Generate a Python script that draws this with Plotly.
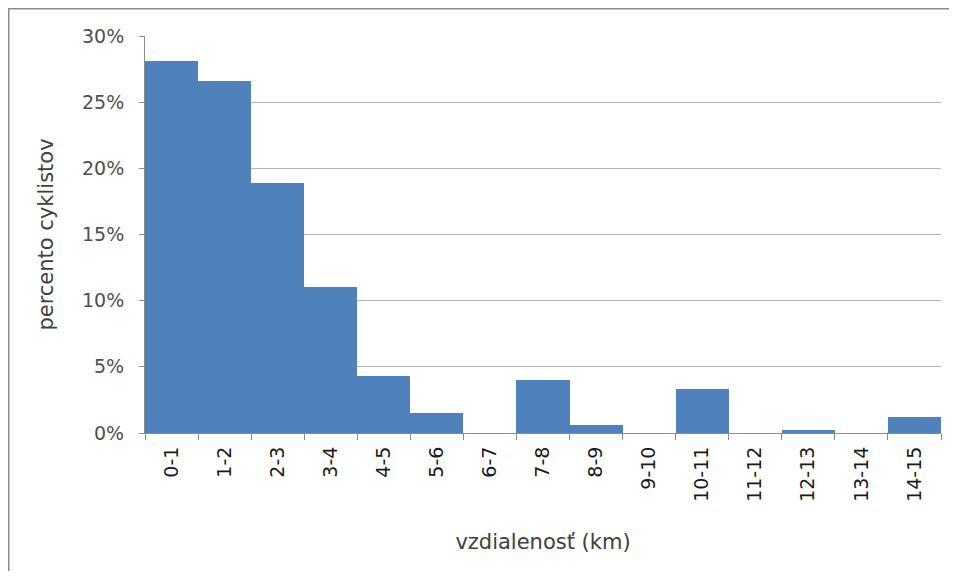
import plotly.graph_objects as go

categories = ["0-1", "1-2", "2-3", "3-4", "4-5", "5-6", "6-7", "7-8", "8-9", "9-10",
              "10-11", "11-12", "12-13", "13-14", "14-15"]
percent = [28.1, 26.6, 18.9, 11.0, 4.3, 1.5, 0.0, 4.0, 0.6, 0.0, 3.3, 0.0, 0.25, 0.0, 1.2]
y_ticks = [0, 5, 10, 15, 20, 25, 30]
y_tick_labels = ["0%", "5%", "10%", "15%", "20%", "25%", "30%"]

FONT = "'DejaVu Sans', Verdana, sans-serif"

# page has an 8px body margin; figure is sized so the page fits the 957x579 window
W, H = 941, 563
L, R, T, B = 137, 8, 28, 138
PW, PH = W - L - R, H - T - B

fig = go.Figure(go.Bar(
    x=categories,
    y=percent,
    marker=dict(color="#4F81BD", line=dict(width=0)),
    hoverinfo="x+y",
))

fig.update_layout(
    width=W, height=H,
    margin=dict(l=L, r=R, t=T, b=B, autoexpand=False),
    paper_bgcolor="white",
    plot_bgcolor="white",
    bargap=0,
    showlegend=False,
    font=dict(family=FONT, size=19, color="#404040"),
    xaxis=dict(
        type="category",
        tickangle=-90,
        tickson="boundaries",
        ticks="outside",
        ticklen=6,
        tickcolor="#8c8c8c",
        showline=True,
        linecolor="#8c8c8c",
        linewidth=1,
        showgrid=False,
        automargin=False,
        tickfont=dict(family=FONT, size=19, color="#1a1a1a"),
        ticklabelstandoff=5,
        title=dict(text="vzdialenosť (km)", font=dict(family=FONT, size=21, color="#404040"), standoff=33),
    ),
    yaxis=dict(
        range=[0, 30],
        tickvals=y_ticks,
        ticktext=y_tick_labels,
        ticks="outside",
        ticklen=5,
        tickcolor="#8c8c8c",
        showline=True,
        linecolor="#8c8c8c",
        linewidth=1,
        showgrid=True,
        gridcolor="#b4b4b4",
        gridwidth=1,
        zeroline=False,
        automargin=False,
        tickfont=dict(family=FONT, size=19, color="#505050"),
        ticklabelstandoff=11,
        title=dict(text="percento cyklistov", font=dict(family=FONT, size=21, color="#404040"), standoff=22),
    ),
    shapes=[dict(
        type="rect", xref="paper", yref="paper",
        x0=(-L + 0.75) / PW, x1=(W - L + 10) / PW,
        y0=-(B + 10) / PH, y1=1 + (T - 0.75) / PH,
        line=dict(color="#8c8c8c", width=1.5),
        fillcolor="rgba(0,0,0,0)",
        layer="below",
    )],
)

fig.write_html("out.html")
